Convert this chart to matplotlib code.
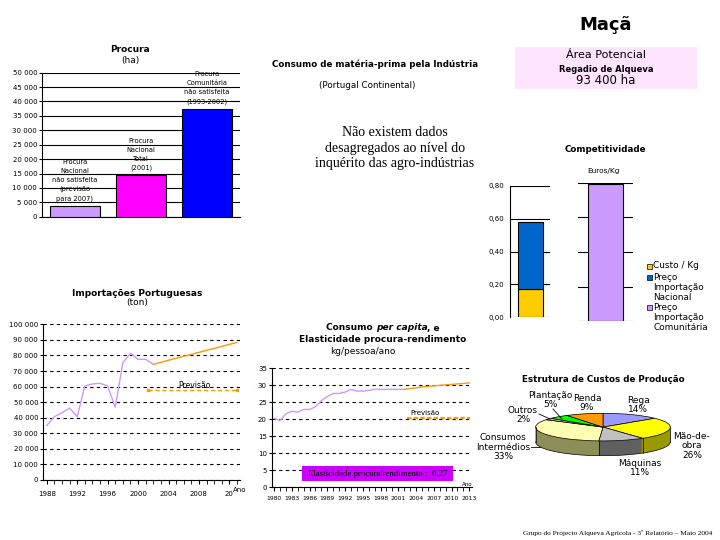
import numpy as np
import matplotlib
matplotlib.use("Agg")
import matplotlib.pyplot as plt
from matplotlib.patches import Rectangle
from matplotlib.lines import Line2D
from matplotlib.ticker import FuncFormatter, MultipleLocator

# ---- data ----
procura_labels = ["Procura\nNacional\nnão satisfeita\n(previsão\npara 2007)",
                  "Procura\nNacional\nTotal\n(2001)",
                  "Procura\nComunitária\nnão satisfeita\n(1993-2002)"]
procura_vals = [3800, 14400, 37400]
procura_colors = ["#CC99FF", "#FF00FF", "#0000FF"]

imp_years = list(range(1988, 2003))
imp_vals = [35000, 40700, 43200, 46200, 40700, 60400, 61700, 62100,
            60400, 46700, 75300, 81400, 77500, 77500, 74300]
imp_prev_years = [2002, 2005, 2008, 2011, 2013]
imp_prev_vals = [74300, 78200, 82000, 85800, 88400]
imp_ticks = [1988, 1992, 1996, 2000, 2004, 2008, 2012]
imp_ticklabels = ["1988", "1992", "1996", "2000", "2004", "2008", "20"]

pc_years = list(range(1980, 2003))
pc_vals = [20.3, 19.6, 21.6, 22.4, 22.1, 22.9, 22.9, 23.7, 25.5, 26.7, 27.6, 27.6,
           28.0, 28.8, 28.3, 28.3, 28.5, 28.8, 28.8, 28.8, 28.8, 28.8, 28.8]
pc_prev_years = [2002, 2005, 2008, 2011, 2013]
pc_prev_vals = [28.8, 29.5, 30.0, 30.4, 30.7]
pc_ticks = list(range(1980, 2014, 3))
elasticidade = "0,27"

comp_custo = 0.17
comp_preco_nac = 0.58
comp_preco_com = 0.79
comp_labels = ["Custo / Kg", "Preço\nImportação\nNacional", "Preço\nImportação\nComunitária"]
comp_colors = ["#FFCC00", "#0066CC", "#CC99FF"]

pie_labels = ["Rega", "Mão-de-\nobra", "Máquinas", "Consumos\nIntermédios", "Outros", "Plantação", "Renda"]
pie_shares = [14, 26, 11, 33, 2, 5, 9]
pie_top = ["#9999FF", "#FFFF00", "#C0C0C0", "#FFFFB4", "#FF99CC", "#00FF00", "#FF9900"]
pie_side = ["#6666AA", "#999900", "#606060", "#8E8E58", "#AA6688", "#009900", "#AA6600"]

W, H = 720, 540
ORANGE = "#FF9900"
PURPLE = "#CC99FF"


def rect(x0, y0, x1, y1):
    return [x0 / W, 1 - y1 / H, (x1 - x0) / W, (y1 - y0) / H]


def ftext(x, y, s, **kw):
    kw.setdefault("ha", "center")
    kw.setdefault("va", "center")
    return fig.text(x / W, 1 - y / H, s, **kw)


def fline(xs, ys, **kw):
    fig.add_artist(Line2D([x / W for x in xs], [1 - y / H for y in ys], **kw))


def spaced(v, pos):
    return f"{int(round(v)):,}".replace(",", " ")


def comma2(v, pos):
    return f"{v:.2f}".replace(".", ",")


def clean(ax):
    for s in ["top", "right"]:
        ax.spines[s].set_visible(False)
    ax.tick_params(labelsize=5, length=2, width=0.8, pad=1.5)


fig = plt.figure(figsize=(7.2, 5.4), dpi=100)
renderer = fig.canvas.get_renderer()

# ---- Procura ----
ftext(130, 50, "Procura", fontsize=6.5, weight="bold")
ftext(130, 61, "(ha)", fontsize=6.5)
ax1 = fig.add_axes(rect(42, 72.7, 240, 216.7))
x = np.arange(len(procura_vals))
ax1.bar(x, procura_vals, width=0.75, color=procura_colors, edgecolor="black", linewidth=0.8, zorder=3)
for i, (v, lab) in enumerate(zip(procura_vals, procura_labels)):
    ax1.annotate(lab, (i, v), xytext=(0, 3), textcoords="offset points",
                 ha="center", va="bottom", fontsize=4.8, linespacing=1.6)
ax1.set_xlim(-0.5, 2.5)
ax1.set_ylim(0, 50000)
ax1.yaxis.set_major_locator(MultipleLocator(5000))
ax1.yaxis.set_major_formatter(FuncFormatter(spaced))
ax1.grid(axis="y", color="black", lw=0.8)
ax1.set_axisbelow(True)
ax1.set_xticks([])
clean(ax1)

# ---- Consumo de matéria-prima ----
ftext(375, 64, "Consumo de matéria-prima pela Indústria", fontsize=6.3, weight="bold")
ftext(367, 86, "(Portugal Continental)", fontsize=6.3)
ftext(395, 148, "Não existem dados\ndesagregados ao nível do\ninquérito das agro-indústrias",
      fontsize=10, family="Liberation Serif", linespacing=1.25)

# ---- Maçã header ----
ftext(606, 25, "Maçã", fontsize=13, weight="bold")
fig.add_artist(Rectangle((515 / W, 1 - 89 / H), 182 / W, 42 / H, transform=fig.transFigure,
                         facecolor="#FFE4FF", edgecolor="none"))
ftext(606, 55, "Área Potencial", fontsize=8)
ftext(606, 69, "Regadio de Alqueva", fontsize=6, weight="bold")
ftext(606, 81, "93 400 ha", fontsize=8.5)

# ---- Competitividade ----
ftext(605, 149, "Competitividade", fontsize=6.3, weight="bold")
ftext(603, 171, "Euros/Kg", fontsize=5.3)
ax2 = fig.add_axes(rect(510, 185.7, 550, 317.3))
ax2.bar([0], [comp_custo], width=0.625, color=comp_colors[0], edgecolor="black", linewidth=0.8, zorder=3)
ax2.bar([0], [comp_preco_nac - comp_custo], bottom=[comp_custo], width=0.625,
        color=comp_colors[1], edgecolor="black", linewidth=0.8, zorder=3)
ax2.set_xlim(-0.5, 0.5)
ax2.set_ylim(0, 0.8)
ax2.yaxis.set_major_locator(MultipleLocator(0.2))
ax2.yaxis.set_major_formatter(FuncFormatter(comma2))
ax2.grid(axis="y", color="black", lw=0.8)
ax2.set_axisbelow(True)
ax2.set_xticks([])
clean(ax2)
ax2.spines["bottom"].set_visible(False)
ax2.tick_params(axis="y", length=0, pad=4)

ax3 = fig.add_axes(rect(578, 182.7, 633, 321.3))
ax3.bar([0], [comp_preco_com], width=0.64, color=comp_colors[2], edgecolor="black", linewidth=0.8, zorder=3)
ax3.set_xlim(-0.5, 0.5)
ax3.set_ylim(0, 0.8)
ax3.yaxis.set_major_locator(MultipleLocator(0.2))
ax3.grid(axis="y", color="black", lw=0.8)
ax3.set_axisbelow(True)
ax3.set_xticks([])
ax3.set_yticklabels([])
ax3.tick_params(axis="y", length=0)
for s in ax3.spines.values():
    s.set_visible(False)

leg_y = [266, 277, 307]
for yy, lab, col in zip(leg_y, comp_labels, comp_colors):
    fig.add_artist(Rectangle((647 / W, 1 - (yy + 2.5) / H), 5 / W, 5 / H, transform=fig.transFigure,
                             facecolor=col, edgecolor="black", linewidth=0.5))
    ftext(653, yy - 4.5, lab, fontsize=6.4, ha="left", va="top", linespacing=1.2)

# ---- Importações Portuguesas ----
ftext(137, 293, "Importações Portuguesas", fontsize=6.5, weight="bold")
ftext(137, 303, "(ton)", fontsize=6.5)
ax4 = fig.add_axes(rect(43, 324.3, 240, 480))
ax4.plot(imp_years, imp_vals, color=PURPLE, lw=1)
ax4.plot(imp_prev_years, imp_prev_vals, color=ORANGE, lw=1)
ax4.set_xlim(1987.5, 2013.4)
ax4.set_ylim(0, 100000)
ax4.yaxis.set_major_locator(MultipleLocator(10000))
ax4.yaxis.set_major_formatter(FuncFormatter(spaced))
ax4.set_xticks(imp_ticks)
ax4.set_xticklabels(imp_ticklabels)
ax4.xaxis.set_minor_locator(MultipleLocator(1))
ax4.grid(axis="y", color="black", lw=0.8, ls=(0, (3, 3)))
clean(ax4)
ax4.tick_params(axis="x", which="both", length=3, pad=5)
ax4.plot([0.533, 0.985], [0.578, 0.578], transform=ax4.transAxes, color=ORANGE, lw=1,
         ls=(0, (3, 2)), marker="s", markersize=2, markevery=[0, 1])
ax4.text(0.77, 0.605, "Previsão", transform=ax4.transAxes, fontsize=5.5, ha="center", va="center")
ftext(240, 490, "Ano", fontsize=5)

# ---- Consumo per capita ----
# first title line mixes bold and bold italic: lay pieces side by side
pieces = [("Consumo ", "normal"), ("per capita", "italic"), (", e", "normal")]
arts = [fig.text(0, 1 - 328 / H, s, fontsize=6.5, weight="bold", style=st, va="center")
        for s, st in pieces]
widths = [a.get_window_extent(renderer).width for a in arts]
xpos = 383 - sum(widths) / 2
for a, w in zip(arts, widths):
    a.set_x(xpos / W)
    xpos += w
ftext(383, 339, "Elasticidade procura-rendimento", fontsize=6.5, weight="bold")
ftext(363, 351, "kg/pessoa/ano", fontsize=6.5)
ax5 = fig.add_axes(rect(271.7, 368.3, 471.7, 487.3))
ax5.plot(pc_years, pc_vals, color=PURPLE, lw=1)
ax5.plot(pc_prev_years, pc_prev_vals, color=ORANGE, lw=1)
ax5.set_xlim(1979.6, 2013.4)
ax5.set_ylim(0, 35)
ax5.yaxis.set_major_locator(MultipleLocator(5))
ax5.set_xticks(pc_ticks)
ax5.xaxis.set_minor_locator(MultipleLocator(1))
ax5.grid(axis="y", color="black", lw=0.8, ls=(0, (3, 3)))
clean(ax5)
ax5.tick_params(axis="x", which="both", length=3, pad=3, labelsize=4.3)
ax5.plot([0.675, 0.99], [0.585, 0.585], transform=ax5.transAxes, color=ORANGE, lw=1.6, ls=(0, (2, 1)))
ax5.text(0.767, 0.625, "Previsão", transform=ax5.transAxes, fontsize=5, ha="center", va="center")
ftext(467, 484, "Ano", fontsize=4)
fig.add_artist(Rectangle((302 / W, 1 - 481 / H), 151 / W, 15 / H, transform=fig.transFigure,
                         facecolor="#CC00FF", edgecolor="none"))
ftext(377.5, 473.5, "Elasticidade procura/rendimento :  " + elasticidade, fontsize=6.3,
      family="Liberation Serif")

# ---- Estrutura de Custos de Produção ----
ftext(603, 380, "Estrutura de Custos de Produção", fontsize=6.3, weight="bold")
axp = fig.add_axes(rect(535, 413, 671, 456))
depth = 1.07
for k in np.linspace(depth, 0.02, 30):
    axp.pie(pie_shares, colors=pie_side, startangle=90, counterclock=False,
            center=(0, -k), radius=1, wedgeprops=dict(linewidth=0))
axp.pie(pie_shares, colors=pie_top, startangle=90, counterclock=False,
        radius=1, wedgeprops=dict(linewidth=0.5, edgecolor="black"))
t = np.linspace(np.pi, 2 * np.pi, 100)
axp.plot(np.cos(t), np.sin(t) - depth, color="black", lw=0.5)
axp.plot([-1, -1], [0, -depth], color="black", lw=0.5)
axp.plot([1, 1], [0, -depth], color="black", lw=0.5)
bounds = 90 - 3.6 * np.cumsum(pie_shares)
for b in np.deg2rad(bounds):
    if np.sin(b) < 0:
        axp.plot([np.cos(b), np.cos(b)], [np.sin(b), np.sin(b) - depth], color="black", lw=0.5)
axp.set_aspect("auto")
axp.set_xlim(-1.01, 1.01)
axp.set_ylim(-depth - 1.02, 1.02)
axp.axis("off")

pie_pos = [(638, 405, "center"), (692, 446, "center"), (640, 468, "center"),
           (530, 447, "right"), (523, 415, "center"), (550, 400, "center"), (587, 403, "center")]
for lab, share, (px, py, ha) in zip(pie_labels, pie_shares, pie_pos):
    ftext(px, py, f"{lab}\n{share}%", fontsize=6.5, ha=ha, multialignment="center", linespacing=1.1)
fline([531, 540], [447, 447], color="black", lw=0.6)
fline([539, 550], [414, 419], color="black", lw=0.6)
fline([553, 562], [409, 419], color="black", lw=0.6)

# ---- footer ----
ftext(712, 533, "Grupo do Projecto Alqueva Agrícola - 3º Relatório – Maio 2004", fontsize=5.3,
      family="Liberation Serif", ha="right")

fig.savefig("out.png", dpi=100)
